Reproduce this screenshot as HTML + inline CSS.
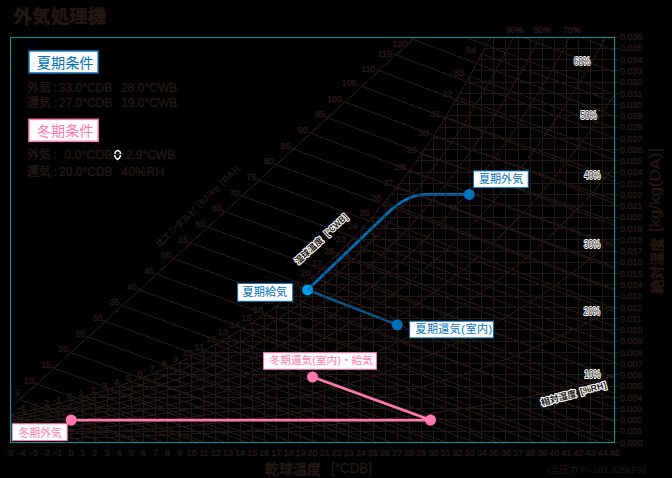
<!DOCTYPE html>
<html><head><meta charset="utf-8"><title>chart</title>
<style>html,body{margin:0;padding:0;background:#000}svg{display:block}text{font-family:"Liberation Sans","Noto Sans CJK JP",sans-serif}</style></head>
<body>
<svg width="672" height="478" viewBox="0 0 672 478">
<rect width="672" height="478" fill="#000"/>
<defs><path id="g" d="M22.56 442.5 L22.56 412.12 M34.65 442.5 L34.65 409.43 M46.73 442.5 L46.73 406.52 M58.82 442.5 L58.82 403.38 M70.9 442.5 L70.9 399.98 M82.99 442.5 L82.99 396.77 M95.07 442.5 L95.07 393.34 M107.16 442.5 L107.16 389.69 M119.24 442.5 L119.24 385.8 M131.33 442.5 L131.33 381.65 M143.41 442.5 L143.41 377.23 M155.5 442.5 L155.5 372.53 M167.58 442.5 L167.58 367.52 M179.67 442.5 L179.67 362.2 M191.75 442.5 L191.75 356.55 M203.84 442.5 L203.84 350.54 M215.92 442.5 L215.92 344.16 M228.01 442.5 L228.01 337.38 M240.09 442.5 L240.09 330.19 M252.18 442.5 L252.18 322.56 M264.26 442.5 L264.26 314.46 M276.35 442.5 L276.35 305.89 M288.43 442.5 L288.43 296.79 M300.51 442.5 L300.51 287.16 M312.6 442.5 L312.6 276.96 M324.69 442.5 L324.69 266.16 M336.77 442.5 L336.77 254.72 M348.86 442.5 L348.86 242.63 M360.94 442.5 L360.94 229.83 M373.02 442.5 L373.02 216.29 M385.11 442.5 L385.11 201.97 M397.2 442.5 L397.2 186.83 M409.28 442.5 L409.28 170.84 M421.37 442.5 L421.37 153.93 M433.45 442.5 L433.45 136.06 M445.54 442.5 L445.54 117.19 M457.62 442.5 L457.62 97.25 M469.71 442.5 L469.71 76.2 M481.79 442.5 L481.79 53.96 M493.88 442.5 L493.88 37 M505.96 442.5 L505.96 37 M518.05 442.5 L518.05 37 M530.13 442.5 L530.13 37 M542.22 442.5 L542.22 37 M554.3 442.5 L554.3 37 M566.38 442.5 L566.38 37 M578.47 442.5 L578.47 37 M590.56 442.5 L590.56 37 M602.64 442.5 L602.64 37 M10.48 431.24 L614.73 431.24 M10.48 419.97 L614.73 419.97 M37.72 408.71 L614.73 408.71 M80.51 397.44 L614.73 397.44 M118.08 386.18 L614.73 386.18 M149.45 374.92 L614.73 374.92 M176.45 363.65 L614.73 363.65 M200.19 352.39 L614.73 352.39 M221.42 341.12 L614.73 341.12 M240.62 329.86 L614.73 329.86 M258.18 318.6 L614.73 318.6 M274.36 307.33 L614.73 307.33 M289.37 296.07 L614.73 296.07 M303.37 284.8 L614.73 284.8 M316.5 273.54 L614.73 273.54 M328.87 262.28 L614.73 262.28 M340.55 251.01 L614.73 251.01 M351.63 239.75 L614.73 239.75 M362.17 228.48 L614.73 228.48 M372.21 217.22 L614.73 217.22 M381.81 205.96 L614.73 205.96 M391 194.69 L614.73 194.69 M399.82 183.43 L614.73 183.43 M408.3 172.16 L614.73 172.16 M416.46 160.9 L614.73 160.9 M424.33 149.64 L614.73 149.64 M431.93 138.37 L614.73 138.37 M439.27 127.11 L614.73 127.11 M446.37 115.84 L614.73 115.84 M453.26 104.58 L614.73 104.58 M459.93 93.32 L614.73 93.32 M466.41 82.05 L614.73 82.05 M472.71 70.79 L614.73 70.79 M478.83 59.52 L614.73 59.52 M484.78 48.26 L614.73 48.26 M10.48 414.61 L13.5 414 L16.52 413.39 L19.54 412.76 L22.56 412.12 L25.58 411.47 L28.6 410.8 L31.62 410.12 L34.65 409.43 L37.67 408.72 L40.69 408 L43.71 407.27 L46.73 406.52 L49.75 405.76 L52.77 404.98 L55.79 404.18 L58.82 403.38 L61.84 402.55 L64.86 401.71 L67.88 400.86 L70.9 399.98 L73.92 399.2 L76.94 398.4 L79.96 397.59 L82.99 396.77 L86.01 395.93 L89.03 395.08 L92.05 394.22 L95.07 393.34 L98.09 392.45 L101.11 391.55 L104.13 390.63 L107.16 389.69 L110.18 388.74 L113.2 387.77 L116.22 386.79 L119.24 385.8 L122.26 384.78 L125.28 383.75 L128.3 382.71 L131.33 381.65 L134.35 380.57 L137.37 379.47 L140.39 378.36 L143.41 377.23 L146.43 376.08 L149.45 374.91 L152.47 373.73 L155.5 372.53 L158.52 371.3 L161.54 370.06 L164.56 368.8 L167.58 367.52 L170.6 366.22 L173.62 364.9 L176.64 363.56 L179.67 362.2 L182.69 360.82 L185.71 359.42 L188.73 357.99 L191.75 356.55 L194.77 355.08 L197.79 353.59 L200.81 352.07 L203.84 350.54 L206.86 348.98 L209.88 347.39 L212.9 345.79 L215.92 344.16 L218.94 342.5 L221.96 340.82 L224.98 339.11 L228.01 337.38 L231.03 335.62 L234.05 333.84 L237.07 332.02 L240.09 330.19 L243.11 328.32 L246.13 326.43 L249.15 324.51 L252.18 322.56 L255.2 320.58 L258.22 318.57 L261.24 316.53 L264.26 314.46 L267.28 312.37 L270.3 310.24 L273.32 308.08 L276.35 305.89 L279.37 303.66 L282.39 301.41 L285.41 299.12 L288.43 296.79 L291.45 294.44 L294.47 292.05 L297.49 289.62 L300.51 287.16 L303.54 284.67 L306.56 282.13 L309.58 279.57 L312.6 276.96 L315.62 274.32 L318.64 271.64 L321.66 268.92 L324.69 266.16 L327.71 263.36 L330.73 260.52 L333.75 257.64 L336.77 254.72 L339.79 251.76 L342.81 248.76 L345.83 245.71 L348.86 242.63 L351.88 239.49 L354.9 236.32 L357.92 233.09 L360.94 229.83 L363.96 226.51 L366.98 223.15 L370 219.74 L373.02 216.29 L376.05 212.78 L379.07 209.23 L382.09 205.62 L385.11 201.97 L388.13 198.26 L391.15 194.51 L394.17 190.7 L397.2 186.83 L400.22 182.92 L403.24 178.95 L406.26 174.92 L409.28 170.84 L412.3 166.7 L415.32 162.5 L418.34 158.24 L421.37 153.93 L424.39 149.55 L427.41 145.12 L430.43 140.62 L433.45 136.06 L436.47 131.44 L439.49 126.76 L442.51 122.01 L445.54 117.19 L448.56 112.31 L451.58 107.36 L454.6 102.34 L457.62 97.25 L460.64 92.1 L463.66 86.87 L466.68 81.57 L469.71 76.2 L472.73 70.75 L475.75 65.23 L478.77 59.63 L481.79 53.96 L484.81 48.21 L487.83 42.38 L490.58 37 M10.48 417.41 L13.5 416.86 L16.52 416.31 L19.54 415.75 L22.56 415.17 L25.58 414.58 L28.6 413.98 L31.62 413.37 L34.65 412.75 L37.67 412.11 L40.69 411.47 L43.71 410.81 L46.73 410.13 L49.75 409.45 L52.77 408.75 L55.79 408.03 L58.82 407.31 L61.84 406.57 L64.86 405.81 L67.88 405.04 L70.9 404.26 L73.92 403.55 L76.94 402.84 L79.96 402.11 L82.99 401.37 L86.01 400.62 L89.03 399.85 L92.05 399.08 L95.07 398.29 L98.09 397.49 L101.11 396.67 L104.13 395.85 L107.16 395.01 L110.18 394.15 L113.2 393.29 L116.22 392.4 L119.24 391.51 L122.26 390.6 L125.28 389.67 L128.3 388.73 L131.33 387.78 L134.35 386.81 L137.37 385.83 L140.39 384.83 L143.41 383.81 L146.43 382.78 L149.45 381.73 L152.47 380.67 L155.5 379.59 L158.52 378.49 L161.54 377.37 L164.56 376.24 L167.58 375.09 L170.6 373.93 L173.62 372.74 L176.64 371.54 L179.67 370.32 L182.69 369.07 L185.71 367.82 L188.73 366.54 L191.75 365.24 L194.77 363.92 L197.79 362.58 L200.81 361.22 L203.84 359.84 L206.86 358.44 L209.88 357.02 L212.9 355.58 L215.92 354.11 L218.94 352.63 L221.96 351.12 L224.98 349.59 L228.01 348.03 L231.03 346.45 L234.05 344.85 L237.07 343.23 L240.09 341.58 L243.11 339.91 L246.13 338.21 L249.15 336.48 L252.18 334.74 L255.2 332.96 L258.22 331.16 L261.24 329.33 L264.26 327.48 L267.28 325.6 L270.3 323.69 L273.32 321.75 L276.35 319.79 L279.37 317.79 L282.39 315.77 L285.41 313.72 L288.43 311.64 L291.45 309.53 L294.47 307.38 L297.49 305.21 L300.51 303.01 L303.54 300.77 L306.56 298.5 L309.58 296.2 L312.6 293.87 L315.62 291.5 L318.64 289.1 L321.66 286.66 L324.69 284.19 L327.71 281.69 L330.73 279.14 L333.75 276.57 L336.77 273.95 L339.79 271.3 L342.81 268.62 L345.83 265.89 L348.86 263.12 L351.88 260.32 L354.9 257.48 L357.92 254.6 L360.94 251.67 L363.96 248.71 L366.98 245.7 L370 242.65 L373.02 239.56 L376.05 236.43 L379.07 233.25 L382.09 230.03 L385.11 226.76 L388.13 223.45 L391.15 220.09 L394.17 216.69 L397.2 213.24 L400.22 209.74 L403.24 206.19 L406.26 202.59 L409.28 198.95 L412.3 195.25 L415.32 191.5 L418.34 187.7 L421.37 183.85 L424.39 179.95 L427.41 175.99 L430.43 171.98 L433.45 167.91 L436.47 163.78 L439.49 159.61 L442.51 155.37 L445.54 151.07 L448.56 146.72 L451.58 142.31 L454.6 137.84 L457.62 133.3 L460.64 128.71 L463.66 124.05 L466.68 119.33 L469.71 114.54 L472.73 109.69 L475.75 104.77 L478.77 99.79 L481.79 94.74 L484.81 89.62 L487.83 84.43 L490.85 79.17 L493.88 73.85 L496.9 68.44 L499.92 62.97 L502.94 57.42 L505.96 51.8 L508.98 46.1 L512 40.32 L513.72 37 M10.48 420.21 L13.5 419.72 L16.52 419.23 L19.54 418.73 L22.56 418.22 L25.58 417.69 L28.6 417.16 L31.62 416.62 L34.65 416.07 L37.67 415.5 L40.69 414.93 L43.71 414.34 L46.73 413.74 L49.75 413.13 L52.77 412.51 L55.79 411.88 L58.82 411.24 L61.84 410.58 L64.86 409.91 L67.88 409.23 L70.9 408.53 L73.92 407.9 L76.94 407.27 L79.96 406.62 L82.99 405.96 L86.01 405.3 L89.03 404.62 L92.05 403.93 L95.07 403.23 L98.09 402.52 L101.11 401.8 L104.13 401.06 L107.16 400.32 L110.18 399.56 L113.2 398.79 L116.22 398.01 L119.24 397.21 L122.26 396.4 L125.28 395.58 L128.3 394.75 L131.33 393.9 L134.35 393.04 L137.37 392.17 L140.39 391.28 L143.41 390.38 L146.43 389.47 L149.45 388.54 L152.47 387.59 L155.5 386.63 L158.52 385.66 L161.54 384.67 L164.56 383.67 L167.58 382.65 L170.6 381.61 L173.62 380.56 L176.64 379.49 L179.67 378.41 L182.69 377.31 L185.71 376.19 L188.73 375.06 L191.75 373.91 L194.77 372.74 L197.79 371.55 L200.81 370.35 L203.84 369.12 L206.86 367.88 L209.88 366.62 L212.9 365.34 L215.92 364.04 L218.94 362.73 L221.96 361.39 L224.98 360.03 L228.01 358.65 L231.03 357.26 L234.05 355.84 L237.07 354.4 L240.09 352.94 L243.11 351.45 L246.13 349.95 L249.15 348.42 L252.18 346.87 L255.2 345.3 L258.22 343.71 L261.24 342.09 L264.26 340.44 L267.28 338.78 L270.3 337.09 L273.32 335.37 L276.35 333.63 L279.37 331.87 L282.39 330.08 L285.41 328.26 L288.43 326.42 L291.45 324.55 L294.47 322.65 L297.49 320.73 L300.51 318.78 L303.54 316.8 L306.56 314.79 L309.58 312.76 L312.6 310.69 L315.62 308.6 L318.64 306.47 L321.66 304.32 L324.69 302.13 L327.71 299.92 L330.73 297.67 L333.75 295.39 L336.77 293.08 L339.79 290.74 L342.81 288.36 L345.83 285.95 L348.86 283.51 L351.88 281.03 L354.9 278.52 L357.92 275.97 L360.94 273.39 L363.96 270.77 L366.98 268.11 L370 265.42 L373.02 262.69 L376.05 259.92 L379.07 257.12 L382.09 254.27 L385.11 251.39 L388.13 248.46 L391.15 245.5 L394.17 242.5 L397.2 239.45 L400.22 236.36 L403.24 233.23 L406.26 230.06 L409.28 226.84 L412.3 223.58 L415.32 220.27 L418.34 216.92 L421.37 213.53 L424.39 210.09 L427.41 206.6 L430.43 203.06 L433.45 199.48 L436.47 195.84 L439.49 192.16 L442.51 188.43 L445.54 184.65 L448.56 180.81 L451.58 176.93 L454.6 172.99 L457.62 169 L460.64 164.95 L463.66 160.85 L466.68 156.7 L469.71 152.49 L472.73 148.22 L475.75 143.9 L478.77 139.52 L481.79 135.08 L484.81 130.58 L487.83 126.02 L490.85 121.39 L493.88 116.71 L496.9 111.97 L499.92 107.16 L502.94 102.28 L505.96 97.35 L508.98 92.34 L512 87.27 L515.02 82.13 L518.05 76.93 L521.07 71.65 L524.09 66.31 L527.11 60.89 L530.13 55.4 L533.15 49.84 L536.17 44.2 L539.19 38.49 L539.98 37 M10.48 423 L13.5 422.58 L16.52 422.15 L19.54 421.71 L22.56 421.26 L25.58 420.8 L28.6 420.34 L31.62 419.87 L34.65 419.38 L37.67 418.89 L40.69 418.39 L43.71 417.87 L46.73 417.35 L49.75 416.82 L52.77 416.28 L55.79 415.72 L58.82 415.16 L61.84 414.58 L64.86 414 L67.88 413.4 L70.9 412.79 L73.92 412.24 L76.94 411.69 L79.96 411.12 L82.99 410.55 L86.01 409.97 L89.03 409.38 L92.05 408.77 L95.07 408.16 L98.09 407.54 L101.11 406.91 L104.13 406.27 L107.16 405.62 L110.18 404.95 L113.2 404.28 L116.22 403.6 L119.24 402.9 L122.26 402.2 L125.28 401.48 L128.3 400.75 L131.33 400.01 L134.35 399.26 L137.37 398.5 L140.39 397.72 L143.41 396.94 L146.43 396.14 L149.45 395.33 L152.47 394.5 L155.5 393.66 L158.52 392.81 L161.54 391.95 L164.56 391.07 L167.58 390.18 L170.6 389.28 L173.62 388.36 L176.64 387.43 L179.67 386.48 L182.69 385.52 L185.71 384.55 L188.73 383.56 L191.75 382.55 L194.77 381.53 L197.79 380.5 L200.81 379.45 L203.84 378.38 L206.86 377.3 L209.88 376.2 L212.9 375.08 L215.92 373.95 L218.94 372.8 L221.96 371.63 L224.98 370.45 L228.01 369.24 L231.03 368.03 L234.05 366.79 L237.07 365.53 L240.09 364.26 L243.11 362.96 L246.13 361.65 L249.15 360.32 L252.18 358.97 L255.2 357.6 L258.22 356.21 L261.24 354.8 L264.26 353.36 L267.28 351.91 L270.3 350.44 L273.32 348.94 L276.35 347.43 L279.37 345.89 L282.39 344.33 L285.41 342.74 L288.43 341.14 L291.45 339.51 L294.47 337.86 L297.49 336.18 L300.51 334.48 L303.54 332.76 L306.56 331.01 L309.58 329.24 L312.6 327.44 L315.62 325.61 L318.64 323.76 L321.66 321.89 L324.69 319.99 L327.71 318.06 L330.73 316.1 L333.75 314.12 L336.77 312.11 L339.79 310.07 L342.81 308 L345.83 305.9 L348.86 303.78 L351.88 301.62 L354.9 299.43 L357.92 297.22 L360.94 294.97 L363.96 292.69 L366.98 290.38 L370 288.04 L373.02 285.67 L376.05 283.26 L379.07 280.82 L382.09 278.35 L385.11 275.85 L388.13 273.3 L391.15 270.73 L394.17 268.12 L397.2 265.47 L400.22 262.79 L403.24 260.07 L406.26 257.31 L409.28 254.52 L412.3 251.69 L415.32 248.82 L418.34 245.91 L421.37 242.97 L424.39 239.98 L427.41 236.95 L430.43 233.88 L433.45 230.77 L436.47 227.62 L439.49 224.43 L442.51 221.19 L445.54 217.91 L448.56 214.59 L451.58 211.22 L454.6 207.81 L457.62 204.35 L460.64 200.84 L463.66 197.29 L466.68 193.69 L469.71 190.05 L472.73 186.35 L475.75 182.61 L478.77 178.82 L481.79 174.97 L484.81 171.08 L487.83 167.13 L490.85 163.13 L493.88 159.08 L496.9 154.98 L499.92 150.82 L502.94 146.61 L505.96 142.34 L508.98 138.01 L512 133.63 L515.02 129.19 L518.05 124.7 L521.07 120.14 L524.09 115.53 L527.11 110.85 L530.13 106.11 L533.15 101.31 L536.17 96.45 L539.19 91.52 L542.22 86.53 L545.24 81.48 L548.26 76.36 L551.28 71.17 L554.3 65.92 L557.32 60.59 L560.34 55.2 L563.36 49.74 L566.38 44.2 L569.41 38.6 L570.26 37 M10.48 425.79 L13.5 425.43 L16.52 425.06 L19.54 424.69 L22.56 424.3 L25.58 423.91 L28.6 423.51 L31.62 423.11 L34.65 422.69 L37.67 422.27 L40.69 421.84 L43.71 421.4 L46.73 420.96 L49.75 420.5 L52.77 420.03 L55.79 419.56 L58.82 419.08 L61.84 418.59 L64.86 418.08 L67.88 417.57 L70.9 417.05 L73.92 416.58 L76.94 416.11 L79.96 415.62 L82.99 415.13 L86.01 414.63 L89.03 414.13 L92.05 413.61 L95.07 413.09 L98.09 412.56 L101.11 412.02 L104.13 411.47 L107.16 410.91 L110.18 410.34 L113.2 409.77 L116.22 409.18 L119.24 408.59 L122.26 407.98 L125.28 407.37 L128.3 406.75 L131.33 406.11 L134.35 405.47 L137.37 404.82 L140.39 404.16 L143.41 403.48 L146.43 402.8 L149.45 402.1 L152.47 401.4 L155.5 400.68 L158.52 399.96 L161.54 399.22 L164.56 398.47 L167.58 397.71 L170.6 396.93 L173.62 396.15 L176.64 395.35 L179.67 394.54 L182.69 393.72 L185.71 392.89 L188.73 392.04 L191.75 391.18 L194.77 390.31 L197.79 389.42 L200.81 388.52 L203.84 387.61 L206.86 386.68 L209.88 385.74 L212.9 384.79 L215.92 383.82 L218.94 382.84 L221.96 381.84 L224.98 380.83 L228.01 379.8 L231.03 378.76 L234.05 377.7 L237.07 376.63 L240.09 375.54 L243.11 374.44 L246.13 373.32 L249.15 372.18 L252.18 371.02 L255.2 369.85 L258.22 368.66 L261.24 367.46 L264.26 366.24 L267.28 365 L270.3 363.74 L273.32 362.46 L276.35 361.17 L279.37 359.85 L282.39 358.52 L285.41 357.17 L288.43 355.8 L291.45 354.41 L294.47 353 L297.49 351.57 L300.51 350.12 L303.54 348.65 L306.56 347.15 L309.58 345.64 L312.6 344.11 L315.62 342.55 L318.64 340.97 L321.66 339.37 L324.69 337.75 L327.71 336.1 L330.73 334.44 L333.75 332.74 L336.77 331.03 L339.79 329.29 L342.81 327.53 L345.83 325.74 L348.86 323.93 L351.88 322.09 L354.9 320.23 L357.92 318.34 L360.94 316.43 L363.96 314.49 L366.98 312.52 L370 310.52 L373.02 308.5 L376.05 306.45 L379.07 304.38 L382.09 302.27 L385.11 300.14 L388.13 297.97 L391.15 295.78 L394.17 293.56 L397.2 291.31 L400.22 289.02 L403.24 286.71 L406.26 284.37 L409.28 281.99 L412.3 279.58 L415.32 277.14 L418.34 274.67 L421.37 272.16 L424.39 269.62 L427.41 267.05 L430.43 264.44 L433.45 261.8 L436.47 259.12 L439.49 256.41 L442.51 253.66 L445.54 250.87 L448.56 248.05 L451.58 245.19 L454.6 242.29 L457.62 239.36 L460.64 236.38 L463.66 233.37 L466.68 230.31 L469.71 227.22 L472.73 224.09 L475.75 220.91 L478.77 217.69 L481.79 214.43 L484.81 211.13 L487.83 207.79 L490.85 204.4 L493.88 200.97 L496.9 197.49 L499.92 193.97 L502.94 190.4 L505.96 186.78 L508.98 183.12 L512 179.41 L515.02 175.66 L518.05 171.85 L521.07 168 L524.09 164.09 L527.11 160.14 L530.13 156.13 L533.15 152.07 L536.17 147.96 L539.19 143.8 L542.22 139.59 L545.24 135.32 L548.26 130.99 L551.28 126.61 L554.3 122.17 L557.32 117.68 L560.34 113.13 L563.36 108.52 L566.38 103.85 L569.41 99.12 L572.43 94.34 L575.45 89.49 L578.47 84.58 L581.49 79.6 L584.51 74.56 L587.53 69.46 L590.56 64.3 L593.58 59.06 L596.6 53.77 L599.62 48.4 L602.64 42.97 L605.66 37.46 L605.92 37 M10.48 428.58 L13.5 428.28 L16.52 427.97 L19.54 427.66 L22.56 427.34 L25.58 427.02 L28.6 426.69 L31.62 426.35 L34.65 426 L37.67 425.65 L40.69 425.29 L43.71 424.93 L46.73 424.56 L49.75 424.18 L52.77 423.79 L55.79 423.39 L58.82 422.99 L61.84 422.58 L64.86 422.17 L67.88 421.74 L70.9 421.3 L73.92 420.92 L76.94 420.52 L79.96 420.12 L82.99 419.71 L86.01 419.29 L89.03 418.87 L92.05 418.44 L95.07 418.01 L98.09 417.57 L101.11 417.12 L104.13 416.66 L107.16 416.19 L110.18 415.72 L113.2 415.24 L116.22 414.76 L119.24 414.26 L122.26 413.76 L125.28 413.25 L128.3 412.73 L131.33 412.21 L134.35 411.67 L137.37 411.13 L140.39 410.58 L143.41 410.02 L146.43 409.45 L149.45 408.87 L152.47 408.28 L155.5 407.69 L158.52 407.08 L161.54 406.47 L164.56 405.84 L167.58 405.21 L170.6 404.57 L173.62 403.92 L176.64 403.25 L179.67 402.58 L182.69 401.9 L185.71 401.2 L188.73 400.5 L191.75 399.79 L194.77 399.06 L197.79 398.32 L200.81 397.58 L203.84 396.82 L206.86 396.05 L209.88 395.27 L212.9 394.47 L215.92 393.67 L218.94 392.85 L221.96 392.03 L224.98 391.18 L228.01 390.33 L231.03 389.46 L234.05 388.59 L237.07 387.69 L240.09 386.79 L243.11 385.87 L246.13 384.94 L249.15 384 L252.18 383.04 L255.2 382.06 L258.22 381.08 L261.24 380.08 L264.26 379.06 L267.28 378.03 L270.3 376.99 L273.32 375.93 L276.35 374.85 L279.37 373.76 L282.39 372.66 L285.41 371.53 L288.43 370.4 L291.45 369.24 L294.47 368.07 L297.49 366.89 L300.51 365.68 L303.54 364.46 L306.56 363.22 L309.58 361.97 L312.6 360.7 L315.62 359.41 L318.64 358.1 L321.66 356.77 L324.69 355.43 L327.71 354.06 L330.73 352.68 L333.75 351.28 L336.77 349.85 L339.79 348.41 L342.81 346.95 L345.83 345.47 L348.86 343.97 L351.88 342.45 L354.9 340.9 L357.92 339.34 L360.94 337.75 L363.96 336.14 L366.98 334.52 L370 332.86 L373.02 331.19 L376.05 329.49 L379.07 327.77 L382.09 326.03 L385.11 324.26 L388.13 322.47 L391.15 320.66 L394.17 318.82 L397.2 316.96 L400.22 315.07 L403.24 313.16 L406.26 311.22 L409.28 309.25 L412.3 307.26 L415.32 305.24 L418.34 303.2 L421.37 301.13 L424.39 299.03 L427.41 296.9 L430.43 294.74 L433.45 292.56 L436.47 290.35 L439.49 288.11 L442.51 285.84 L445.54 283.54 L448.56 281.2 L451.58 278.84 L454.6 276.45 L457.62 274.03 L460.64 271.57 L463.66 269.09 L466.68 266.57 L469.71 264.01 L472.73 261.43 L475.75 258.81 L478.77 256.16 L481.79 253.47 L484.81 250.75 L487.83 247.99 L490.85 245.2 L493.88 242.37 L496.9 239.51 L499.92 236.61 L502.94 233.67 L505.96 230.69 L508.98 227.68 L512 224.62 L515.02 221.53 L518.05 218.4 L521.07 215.23 L524.09 212.02 L527.11 208.77 L530.13 205.47 L533.15 202.14 L536.17 198.76 L539.19 195.34 L542.22 191.88 L545.24 188.37 L548.26 184.82 L551.28 181.22 L554.3 177.58 L557.32 173.89 L560.34 170.16 L563.36 166.38 L566.38 162.55 L569.41 158.67 L572.43 154.75 L575.45 150.77 L578.47 146.75 L581.49 142.67 L584.51 138.55 L587.53 134.37 L590.56 130.14 L593.58 125.86 L596.6 121.52 L599.62 117.13 L602.64 112.69 L605.66 108.19 L608.68 103.63 L611.7 99.02 L614.73 94.35 M10.48 431.37 L13.5 431.13 L16.52 430.88 L19.54 430.63 L22.56 430.38 L25.58 430.12 L28.6 429.85 L31.62 429.58 L34.65 429.31 L37.67 429.03 L40.69 428.74 L43.71 428.45 L46.73 428.15 L49.75 427.85 L52.77 427.54 L55.79 427.22 L58.82 426.9 L61.84 426.58 L64.86 426.24 L67.88 425.9 L70.9 425.55 L73.92 425.24 L76.94 424.93 L79.96 424.61 L82.99 424.28 L86.01 423.95 L89.03 423.61 L92.05 423.27 L95.07 422.92 L98.09 422.57 L101.11 422.21 L104.13 421.84 L107.16 421.47 L110.18 421.09 L113.2 420.71 L116.22 420.32 L119.24 419.93 L122.26 419.53 L125.28 419.12 L128.3 418.71 L131.33 418.29 L134.35 417.86 L137.37 417.42 L140.39 416.98 L143.41 416.54 L146.43 416.08 L149.45 415.62 L152.47 415.15 L155.5 414.68 L158.52 414.19 L161.54 413.7 L164.56 413.21 L167.58 412.7 L170.6 412.19 L173.62 411.67 L176.64 411.14 L179.67 410.6 L182.69 410.06 L185.71 409.5 L188.73 408.94 L191.75 408.37 L194.77 407.79 L197.79 407.2 L200.81 406.61 L203.84 406 L206.86 405.39 L209.88 404.77 L212.9 404.13 L215.92 403.49 L218.94 402.84 L221.96 402.18 L224.98 401.51 L228.01 400.83 L231.03 400.14 L234.05 399.44 L237.07 398.72 L240.09 398 L243.11 397.27 L246.13 396.53 L249.15 395.77 L252.18 395.01 L255.2 394.24 L258.22 393.45 L261.24 392.65 L264.26 391.84 L267.28 391.02 L270.3 390.19 L273.32 389.34 L276.35 388.49 L279.37 387.62 L282.39 386.74 L285.41 385.84 L288.43 384.94 L291.45 384.02 L294.47 383.08 L297.49 382.14 L300.51 381.18 L303.54 380.21 L306.56 379.22 L309.58 378.22 L312.6 377.21 L315.62 376.18 L318.64 375.14 L321.66 374.08 L324.69 373.01 L327.71 371.93 L330.73 370.83 L333.75 369.71 L336.77 368.58 L339.79 367.43 L342.81 366.27 L345.83 365.09 L348.86 363.9 L351.88 362.68 L354.9 361.46 L357.92 360.21 L360.94 358.95 L363.96 357.67 L366.98 356.38 L370 355.06 L373.02 353.73 L376.05 352.39 L379.07 351.02 L382.09 349.63 L385.11 348.23 L388.13 346.81 L391.15 345.37 L394.17 343.9 L397.2 342.42 L400.22 340.92 L403.24 339.41 L406.26 337.87 L409.28 336.3 L412.3 334.72 L415.32 333.12 L418.34 331.5 L421.37 329.85 L424.39 328.19 L427.41 326.5 L430.43 324.79 L433.45 323.06 L436.47 321.31 L439.49 319.53 L442.51 317.73 L445.54 315.9 L448.56 314.05 L451.58 312.18 L454.6 310.29 L457.62 308.37 L460.64 306.42 L463.66 304.45 L466.68 302.46 L469.71 300.43 L472.73 298.39 L475.75 296.31 L478.77 294.21 L481.79 292.09 L484.81 289.93 L487.83 287.75 L490.85 285.54 L493.88 283.31 L496.9 281.04 L499.92 278.75 L502.94 276.42 L505.96 274.07 L508.98 271.69 L512 269.28 L515.02 266.83 L518.05 264.36 L521.07 261.86 L524.09 259.32 L527.11 256.75 L530.13 254.15 L533.15 251.52 L536.17 248.86 L539.19 246.16 L542.22 243.43 L545.24 240.66 L548.26 237.86 L551.28 235.02 L554.3 232.15 L557.32 229.25 L560.34 226.31 L563.36 223.33 L566.38 220.31 L569.41 217.26 L572.43 214.17 L575.45 211.04 L578.47 207.88 L581.49 204.67 L584.51 201.43 L587.53 198.15 L590.56 194.82 L593.58 191.46 L596.6 188.05 L599.62 184.6 L602.64 181.11 L605.66 177.58 L608.68 174 L611.7 170.39 L614.73 166.72 M10.48 434.16 L13.5 433.98 L16.52 433.79 L19.54 433.6 L22.56 433.41 L25.58 433.22 L28.6 433.02 L31.62 432.82 L34.65 432.61 L37.67 432.4 L40.69 432.19 L43.71 431.97 L46.73 431.74 L49.75 431.52 L52.77 431.29 L55.79 431.05 L58.82 430.81 L61.84 430.56 L64.86 430.31 L67.88 430.06 L70.9 429.8 L73.92 429.57 L76.94 429.33 L79.96 429.09 L82.99 428.84 L86.01 428.59 L89.03 428.34 L92.05 428.09 L95.07 427.83 L98.09 427.56 L101.11 427.29 L104.13 427.02 L107.16 426.74 L110.18 426.46 L113.2 426.17 L116.22 425.88 L119.24 425.58 L122.26 425.28 L125.28 424.98 L128.3 424.67 L131.33 424.35 L134.35 424.03 L137.37 423.71 L140.39 423.38 L143.41 423.05 L146.43 422.71 L149.45 422.36 L152.47 422.01 L155.5 421.65 L158.52 421.29 L161.54 420.93 L164.56 420.55 L167.58 420.17 L170.6 419.79 L173.62 419.4 L176.64 419 L179.67 418.6 L182.69 418.19 L185.71 417.78 L188.73 417.36 L191.75 416.93 L194.77 416.5 L197.79 416.06 L200.81 415.62 L203.84 415.16 L206.86 414.7 L209.88 414.24 L212.9 413.76 L215.92 413.28 L218.94 412.8 L221.96 412.3 L224.98 411.8 L228.01 411.29 L231.03 410.77 L234.05 410.25 L237.07 409.72 L240.09 409.18 L243.11 408.63 L246.13 408.08 L249.15 407.51 L252.18 406.94 L255.2 406.36 L258.22 405.78 L261.24 405.18 L264.26 404.57 L267.28 403.96 L270.3 403.34 L273.32 402.71 L276.35 402.07 L279.37 401.42 L282.39 400.76 L285.41 400.09 L288.43 399.42 L291.45 398.73 L294.47 398.03 L297.49 397.33 L300.51 396.61 L303.54 395.88 L306.56 395.15 L309.58 394.4 L312.6 393.65 L315.62 392.88 L318.64 392.1 L321.66 391.31 L324.69 390.51 L327.71 389.7 L330.73 388.88 L333.75 388.05 L336.77 387.2 L339.79 386.35 L342.81 385.48 L345.83 384.6 L348.86 383.71 L351.88 382.81 L354.9 381.89 L357.92 380.97 L360.94 380.03 L363.96 379.07 L366.98 378.11 L370 377.13 L373.02 376.14 L376.05 375.13 L379.07 374.11 L382.09 373.08 L385.11 372.03 L388.13 370.97 L391.15 369.9 L394.17 368.81 L397.2 367.71 L400.22 366.59 L403.24 365.46 L406.26 364.32 L409.28 363.15 L412.3 361.98 L415.32 360.79 L418.34 359.58 L421.37 358.35 L424.39 357.12 L427.41 355.86 L430.43 354.59 L433.45 353.3 L436.47 352 L439.49 350.67 L442.51 349.33 L445.54 347.98 L448.56 346.61 L451.58 345.21 L454.6 343.81 L457.62 342.38 L460.64 340.93 L463.66 339.47 L466.68 337.99 L469.71 336.49 L472.73 334.97 L475.75 333.43 L478.77 331.87 L481.79 330.29 L484.81 328.7 L487.83 327.08 L490.85 325.44 L493.88 323.78 L496.9 322.1 L499.92 320.4 L502.94 318.68 L505.96 316.93 L508.98 315.17 L512 313.38 L515.02 311.57 L518.05 309.74 L521.07 307.89 L524.09 306.01 L527.11 304.11 L530.13 302.18 L533.15 300.24 L536.17 298.26 L539.19 296.27 L542.22 294.25 L545.24 292.2 L548.26 290.13 L551.28 288.04 L554.3 285.92 L557.32 283.77 L560.34 281.6 L563.36 279.4 L566.38 277.17 L569.41 274.92 L572.43 272.64 L575.45 270.33 L578.47 268 L581.49 265.63 L584.51 263.24 L587.53 260.82 L590.56 258.37 L593.58 255.89 L596.6 253.38 L599.62 250.84 L602.64 248.27 L605.66 245.67 L608.68 243.04 L611.7 240.38 L614.73 237.68 M10.48 436.94 L13.5 436.82 L16.52 436.7 L19.54 436.57 L22.56 436.44 L25.58 436.32 L28.6 436.18 L31.62 436.05 L34.65 435.91 L37.67 435.77 L40.69 435.63 L43.71 435.48 L46.73 435.33 L49.75 435.18 L52.77 435.03 L55.79 434.87 L58.82 434.71 L61.84 434.55 L64.86 434.38 L67.88 434.21 L70.9 434.04 L73.92 433.88 L76.94 433.72 L79.96 433.56 L82.99 433.4 L86.01 433.24 L89.03 433.07 L92.05 432.9 L95.07 432.72 L98.09 432.55 L101.11 432.37 L104.13 432.19 L107.16 432 L110.18 431.81 L113.2 431.62 L116.22 431.43 L119.24 431.23 L122.26 431.03 L125.28 430.83 L128.3 430.62 L131.33 430.41 L134.35 430.2 L137.37 429.98 L140.39 429.77 L143.41 429.54 L146.43 429.32 L149.45 429.09 L152.47 428.85 L155.5 428.62 L158.52 428.38 L161.54 428.13 L164.56 427.88 L167.58 427.63 L170.6 427.38 L173.62 427.12 L176.64 426.85 L179.67 426.59 L182.69 426.32 L185.71 426.04 L188.73 425.76 L191.75 425.48 L194.77 425.19 L197.79 424.9 L200.81 424.6 L203.84 424.3 L206.86 423.99 L209.88 423.68 L212.9 423.37 L215.92 423.05 L218.94 422.73 L221.96 422.4 L224.98 422.06 L228.01 421.73 L231.03 421.38 L234.05 421.03 L237.07 420.68 L240.09 420.32 L243.11 419.96 L246.13 419.59 L249.15 419.21 L252.18 418.84 L255.2 418.45 L258.22 418.06 L261.24 417.66 L264.26 417.26 L267.28 416.85 L270.3 416.44 L273.32 416.02 L276.35 415.6 L279.37 415.17 L282.39 414.73 L285.41 414.29 L288.43 413.84 L291.45 413.38 L294.47 412.92 L297.49 412.45 L300.51 411.97 L303.54 411.49 L306.56 411 L309.58 410.51 L312.6 410.01 L315.62 409.5 L318.64 408.98 L321.66 408.46 L324.69 407.93 L327.71 407.39 L330.73 406.85 L333.75 406.29 L336.77 405.73 L339.79 405.17 L342.81 404.59 L345.83 404.01 L348.86 403.42 L351.88 402.82 L354.9 402.21 L357.92 401.6 L360.94 400.97 L363.96 400.34 L366.98 399.7 L370 399.05 L373.02 398.4 L376.05 397.73 L379.07 397.06 L382.09 396.37 L385.11 395.68 L388.13 394.98 L391.15 394.27 L394.17 393.55 L397.2 392.82 L400.22 392.08 L403.24 391.33 L406.26 390.57 L409.28 389.8 L412.3 389.02 L415.32 388.23 L418.34 387.44 L421.37 386.63 L424.39 385.81 L427.41 384.98 L430.43 384.14 L433.45 383.28 L436.47 382.42 L439.49 381.55 L442.51 380.66 L445.54 379.77 L448.56 378.86 L451.58 377.94 L454.6 377.01 L457.62 376.07 L460.64 375.12 L463.66 374.15 L466.68 373.17 L469.71 372.18 L472.73 371.18 L475.75 370.16 L478.77 369.13 L481.79 368.09 L484.81 367.04 L487.83 365.97 L490.85 364.89 L493.88 363.8 L496.9 362.69 L499.92 361.57 L502.94 360.43 L505.96 359.29 L508.98 358.12 L512 356.95 L515.02 355.75 L518.05 354.55 L521.07 353.33 L524.09 352.09 L527.11 350.84 L530.13 349.58 L533.15 348.29 L536.17 347 L539.19 345.69 L542.22 344.36 L545.24 343.01 L548.26 341.65 L551.28 340.28 L554.3 338.88 L557.32 337.47 L560.34 336.05 L563.36 334.6 L566.38 333.14 L569.41 331.66 L572.43 330.17 L575.45 328.65 L578.47 327.12 L581.49 325.57 L584.51 324 L587.53 322.42 L590.56 320.81 L593.58 319.19 L596.6 317.54 L599.62 315.88 L602.64 314.2 L605.66 312.5 L608.68 310.78 L611.7 309.03 L614.73 307.27 M10.48 439.72 L13.5 439.66 L16.52 439.6 L19.54 439.54 L22.56 439.47 L25.58 439.41 L28.6 439.34 L31.62 439.28 L34.65 439.21 L37.67 439.14 L40.69 439.07 L43.71 438.99 L46.73 438.92 L49.75 438.84 L52.77 438.77 L55.79 438.69 L58.82 438.61 L61.84 438.53 L64.86 438.44 L67.88 438.36 L70.9 438.27 L73.92 438.19 L76.94 438.11 L79.96 438.03 L82.99 437.95 L86.01 437.87 L89.03 437.79 L92.05 437.7 L95.07 437.62 L98.09 437.53 L101.11 437.44 L104.13 437.35 L107.16 437.25 L110.18 437.16 L113.2 437.07 L116.22 436.97 L119.24 436.87 L122.26 436.77 L125.28 436.67 L128.3 436.57 L131.33 436.46 L134.35 436.36 L137.37 436.25 L140.39 436.14 L143.41 436.03 L146.43 435.91 L149.45 435.8 L152.47 435.68 L155.5 435.57 L158.52 435.44 L161.54 435.32 L164.56 435.2 L167.58 435.07 L170.6 434.95 L173.62 434.82 L176.64 434.69 L179.67 434.55 L182.69 434.42 L185.71 434.28 L188.73 434.14 L191.75 434 L194.77 433.85 L197.79 433.71 L200.81 433.56 L203.84 433.41 L206.86 433.26 L209.88 433.1 L212.9 432.95 L215.92 432.79 L218.94 432.63 L221.96 432.46 L224.98 432.3 L228.01 432.13 L231.03 431.96 L234.05 431.78 L237.07 431.61 L240.09 431.43 L243.11 431.25 L246.13 431.06 L249.15 430.88 L252.18 430.69 L255.2 430.5 L258.22 430.3 L261.24 430.1 L264.26 429.9 L267.28 429.7 L270.3 429.49 L273.32 429.29 L276.35 429.07 L279.37 428.86 L282.39 428.64 L285.41 428.42 L288.43 428.2 L291.45 427.97 L294.47 427.74 L297.49 427.51 L300.51 427.27 L303.54 427.03 L306.56 426.79 L309.58 426.54 L312.6 426.29 L315.62 426.04 L318.64 425.78 L321.66 425.52 L324.69 425.26 L327.71 424.99 L330.73 424.72 L333.75 424.44 L336.77 424.16 L339.79 423.88 L342.81 423.6 L345.83 423.31 L348.86 423.01 L351.88 422.72 L354.9 422.41 L357.92 422.11 L360.94 421.8 L363.96 421.48 L366.98 421.17 L370 420.84 L373.02 420.52 L376.05 420.19 L379.07 419.85 L382.09 419.51 L385.11 419.17 L388.13 418.82 L391.15 418.47 L394.17 418.11 L397.2 417.75 L400.22 417.38 L403.24 417.01 L406.26 416.63 L409.28 416.25 L412.3 415.86 L415.32 415.47 L418.34 415.08 L421.37 414.67 L424.39 414.27 L427.41 413.86 L430.43 413.44 L433.45 413.02 L436.47 412.59 L439.49 412.16 L442.51 411.72 L445.54 411.27 L448.56 410.82 L451.58 410.37 L454.6 409.91 L457.62 409.44 L460.64 408.97 L463.66 408.49 L466.68 408.01 L469.71 407.52 L472.73 407.02 L475.75 406.52 L478.77 406.01 L481.79 405.49 L484.81 404.97 L487.83 404.44 L490.85 403.91 L493.88 403.37 L496.9 402.82 L499.92 402.27 L502.94 401.71 L505.96 401.14 L508.98 400.56 L512 399.98 L515.02 399.39 L518.05 398.8 L521.07 398.2 L524.09 397.59 L527.11 396.97 L530.13 396.34 L533.15 395.71 L536.17 395.07 L539.19 394.42 L542.22 393.77 L545.24 393.11 L548.26 392.44 L551.28 391.76 L554.3 391.07 L557.32 390.38 L560.34 389.67 L563.36 388.96 L566.38 388.24 L569.41 387.52 L572.43 386.78 L575.45 386.04 L578.47 385.28 L581.49 384.52 L584.51 383.75 L587.53 382.97 L590.56 382.18 L593.58 381.38 L596.6 380.57 L599.62 379.76 L602.64 378.93 L605.66 378.1 L608.68 377.25 L611.7 376.4 L614.73 375.53 M10.48 414.61 L55.79 431.55 L85.22 442.5 M22.56 412.12 L67.27 428.86 L103.9 442.5 M34.65 409.43 L100.81 434.2 L123.11 442.5 M46.73 406.52 L111.99 430.99 L142.89 442.5 M58.82 403.38 L123.17 427.54 L163.27 442.5 M70.9 399.98 L134.35 423.84 L184.32 442.5 M82.99 396.77 L145.52 420.32 L204.85 442.5 M95.07 393.34 L177.25 424.3 L225.95 442.5 M107.16 389.69 L188.12 420.24 L247.62 442.5 M119.24 385.8 L199 415.94 L269.93 442.5 M131.33 381.65 L229.52 418.78 L292.89 442.5 M143.41 377.23 L240.09 413.85 L316.54 442.5 M155.5 372.53 L250.66 408.64 L340.92 442.5 M167.58 367.52 L279.97 410.2 L366.08 442.5 M179.67 362.2 L290.24 404.27 L392.05 442.5 M191.75 356.55 L318.64 404.86 L418.88 442.5 M203.84 350.54 L328.61 398.15 L446.62 442.5 M215.92 344.16 L356.11 397.7 L475.31 442.5 M228.01 337.38 L383 396.64 L505.01 442.5 M240.09 330.19 L392.36 388.54 L535.77 442.5 M252.18 322.56 L418.34 386.32 L567.64 442.5 M264.26 314.46 L443.72 383.43 L600.69 442.5 M276.35 305.89 L452.48 373.74 L614.73 434.95 M288.43 296.79 L461.25 363.54 L614.73 421.63 M300.51 287.16 L470.01 352.8 L614.73 407.76 M312.6 276.96 L478.77 341.49 L614.73 393.31 M324.69 266.16 L472.73 323.87 L614.73 378.23 M336.77 254.72 L481.79 311.42 L614.73 362.51 M348.86 242.63 L490.85 297.67 L614.73 344.88 M360.94 229.83 L499.92 283.24 L614.73 326.65 M373.02 216.29 L495.39 263.21 L614.73 308.26 M385.11 201.97 L504.75 247.71 L614.73 289.13 M397.2 186.83 L514.12 230.05 L614.73 266.7 M409.28 170.84 L523.48 212.18 L614.73 244.74 M421.37 153.93 L520.46 188.75 L614.73 221.42 M433.45 136.06 L530.13 170.35 L614.73 199.96 M445.54 117.19 L539.8 150.77 L614.73 177.14 M457.62 97.25 L537.99 126.04 L614.73 153.23 M469.71 76.2 L547.96 104.37 L614.73 128.16 M481.79 53.96 L557.93 81.51 L614.73 101.87 M16.99 398.52 L138.21 442.5 M34.1 382.86 L198.29 442.5 M51.21 367.19 L258.27 442.5 M68.32 351.53 L318.13 442.5 M85.43 335.87 L377.88 442.5 M102.54 320.21 L437.49 442.5 M119.65 304.55 L496.96 442.5 M136.76 288.89 L556.27 442.5 M153.87 273.23 L614.73 442.24 M170.98 257.57 L614.73 420.57 M188.09 241.9 L614.73 398.9 M205.21 226.24 L614.73 377.22 M222.32 210.58 L614.73 355.53 M239.43 194.92 L614.72 333.84 M256.54 179.26 L614.73 312.13 M273.65 163.59 L614.73 290.42 M290.76 147.93 L614.73 268.69 M307.87 132.27 L614.73 246.96 M324.98 116.61 L614.73 225.21 M342.09 100.94 L614.73 203.44 M359.2 85.28 L614.73 181.66 M376.31 69.62 L614.73 159.86 M393.43 53.95 L614.73 138.04 M410.54 38.29 L614.73 116.2 M465.14 37 L614.73 94.33 M522.73 37 L614.73 72.43 M579.87 37 L614.73 50.49 M11.9 406.78 L415.92 37"/></defs>
<use href="#g" fill="none" stroke="#231815" stroke-width="1" shape-rendering="crispEdges"/>
<g fill="none" stroke-linecap="round" stroke-linejoin="round">
<path d="M307.5 289.9 L388 212.8 Q407.3 194.3 426 194.3 L469.71 194.3" stroke="#0071bc" stroke-width="2.8"/>
<path d="M307.5 289.9 L397.2 324.77" stroke="#0071bc" stroke-width="2.2"/>
</g>
<use href="#g" fill="none" stroke="#231815" stroke-width="0.4"/>
<path d="M71.2 420.1 L430.5 420.1 L312.5 377" stroke="#ff78ae" stroke-width="2.7" fill="none" stroke-linecap="round" stroke-linejoin="round"/>
<rect x="10.5" y="37.5" width="604" height="405" fill="none" stroke="#0097a7" stroke-width="1" shape-rendering="crispEdges"/>
<path d="M615 442.5h4 M615 431.24h4 M615 419.97h4 M615 408.71h4 M615 397.44h4 M615 386.18h4 M615 374.92h4 M615 363.65h4 M615 352.39h4 M615 341.12h4 M615 329.86h4 M615 318.6h4 M615 307.33h4 M615 296.07h4 M615 284.8h4 M615 273.54h4 M615 262.28h4 M615 251.01h4 M615 239.75h4 M615 228.48h4 M615 217.22h4 M615 205.96h4 M615 194.69h4 M615 183.43h4 M615 172.16h4 M615 160.9h4 M615 149.64h4 M615 138.37h4 M615 127.11h4 M615 115.84h4 M615 104.58h4 M615 93.32h4 M615 82.05h4 M615 70.79h4 M615 59.52h4 M615 48.26h4 M615 37h4" stroke="#231815" stroke-width="1" fill="none" shape-rendering="crispEdges"/>
<g stroke="#231815" stroke-width="0.5">
<g fill="#231815" font-size="9" text-anchor="middle">
<text x="9.58" y="455.6">-5</text><text x="21.66" y="455.6">-4</text><text x="33.75" y="455.6">-3</text><text x="45.83" y="455.6">-2</text><text x="57.92" y="455.6">-1</text><text x="70.9" y="455.6">0</text><text x="82.99" y="455.6">1</text><text x="95.07" y="455.6">2</text><text x="107.16" y="455.6">3</text><text x="119.24" y="455.6">4</text><text x="131.33" y="455.6">5</text><text x="143.41" y="455.6">6</text><text x="155.5" y="455.6">7</text><text x="167.58" y="455.6">8</text><text x="179.67" y="455.6">9</text><text x="191.75" y="455.6">10</text><text x="203.84" y="455.6">11</text><text x="215.92" y="455.6">12</text><text x="228.01" y="455.6">13</text><text x="240.09" y="455.6">14</text><text x="252.18" y="455.6">15</text><text x="264.26" y="455.6">16</text><text x="276.35" y="455.6">17</text><text x="288.43" y="455.6">18</text><text x="300.51" y="455.6">19</text><text x="312.6" y="455.6">20</text><text x="324.69" y="455.6">21</text><text x="336.77" y="455.6">22</text><text x="348.86" y="455.6">23</text><text x="360.94" y="455.6">24</text><text x="373.02" y="455.6">25</text><text x="385.11" y="455.6">26</text><text x="397.2" y="455.6">27</text><text x="409.28" y="455.6">28</text><text x="421.37" y="455.6">29</text><text x="433.45" y="455.6">30</text><text x="445.54" y="455.6">31</text><text x="457.62" y="455.6">32</text><text x="469.71" y="455.6">33</text><text x="481.79" y="455.6">34</text><text x="493.88" y="455.6">35</text><text x="505.96" y="455.6">36</text><text x="518.05" y="455.6">37</text><text x="530.13" y="455.6">38</text><text x="542.22" y="455.6">39</text><text x="554.3" y="455.6">40</text><text x="566.38" y="455.6">41</text><text x="578.47" y="455.6">42</text><text x="590.56" y="455.6">43</text><text x="602.64" y="455.6">44</text><text x="614.73" y="455.6">45</text>
</g>
<g fill="#231815" font-size="9">
<text x="620" y="445.7">0.000</text><text x="620" y="434.44">0.001</text><text x="620" y="423.17">0.002</text><text x="620" y="411.91">0.003</text><text x="620" y="400.64">0.004</text><text x="620" y="389.38">0.005</text><text x="620" y="378.12">0.006</text><text x="620" y="366.85">0.007</text><text x="620" y="355.59">0.008</text><text x="620" y="344.32">0.009</text><text x="620" y="333.06">0.010</text><text x="620" y="321.8">0.011</text><text x="620" y="310.53">0.012</text><text x="620" y="299.27">0.013</text><text x="620" y="288">0.014</text><text x="620" y="276.74">0.015</text><text x="620" y="265.48">0.016</text><text x="620" y="254.21">0.017</text><text x="620" y="242.95">0.018</text><text x="620" y="231.68">0.019</text><text x="620" y="220.42">0.020</text><text x="620" y="209.16">0.021</text><text x="620" y="197.89">0.022</text><text x="620" y="186.63">0.023</text><text x="620" y="175.36">0.024</text><text x="620" y="164.1">0.025</text><text x="620" y="152.84">0.026</text><text x="620" y="141.57">0.027</text><text x="620" y="130.31">0.028</text><text x="620" y="119.04">0.029</text><text x="620" y="107.78">0.030</text><text x="620" y="96.52">0.031</text><text x="620" y="85.25">0.032</text><text x="620" y="73.99">0.033</text><text x="620" y="62.72">0.034</text><text x="620" y="51.46">0.035</text><text x="620" y="40.2">0.036</text>
</g>
<g fill="#231815" font-size="8.8" text-anchor="middle">
<text x="514.7" y="32.8">90%</text><text x="542.2" y="32.8">80%</text><text x="572" y="32.8">70%</text>
</g>
<g fill="#231815" font-size="8.8" text-anchor="end">
<text x="19.81" y="396.44">5</text><text x="33.92" y="383.58">10</text><text x="51.03" y="367.92">15</text><text x="68.14" y="352.26">20</text><text x="85.25" y="336.6">25</text><text x="102.36" y="320.94">30</text><text x="119.47" y="305.28">35</text><text x="136.58" y="289.62">40</text><text x="153.69" y="273.96">45</text><text x="170.8" y="258.3">50</text><text x="187.91" y="242.64">55</text><text x="205.02" y="226.98">60</text><text x="222.13" y="211.32">65</text><text x="239.24" y="195.66">70</text><text x="256.35" y="180">75</text><text x="273.46" y="164.34">80</text><text x="290.57" y="148.68">85</text><text x="307.68" y="133.02">90</text><text x="324.79" y="117.36">95</text><text x="341.9" y="101.7">100</text><text x="356.51" y="86.44">105</text><text x="375.22" y="72.08">110</text><text x="391.83" y="57.12">115</text><text x="407.54" y="47.16">120</text>
</g>
<g fill="#231815" font-size="9.4" text-anchor="middle">
<text x="21.06" y="411.42">-4</text><text x="33.15" y="408.73">-3</text><text x="45.23" y="405.82">-2</text><text x="57.32" y="402.68">-1</text><text x="69.4" y="399.48">0</text><text x="81.21" y="396.27">1</text><text x="93.01" y="392.84">2</text><text x="104.81" y="389.19">3</text><text x="116.62" y="385.3">4</text><text x="128.43" y="381.15">5</text><text x="140.23" y="376.73">6</text><text x="152.03" y="372.03">7</text><text x="163.84" y="367.02">8</text><text x="175.65" y="361.7">9</text><text x="187.45" y="356.05">10</text><text x="199.25" y="350.04">11</text><text x="211.06" y="342.26">12</text><text x="222.87" y="335.48">13</text><text x="234.67" y="328.29">14</text><text x="246.48" y="320.66">15</text><text x="258.28" y="312.56">16</text><text x="270.09" y="303.99">17</text><text x="281.89" y="294.89">18</text><text x="293.69" y="286.66">19</text><text x="305.5" y="276.46">20</text><text x="317.31" y="265.66">21</text><text x="329.11" y="254.22">22</text><text x="340.92" y="242.13">23</text><text x="352.72" y="229.33">24</text><text x="364.52" y="215.79">25</text><text x="376.33" y="201.47">26</text><text x="388.14" y="186.33">27</text><text x="399.94" y="170.34">28</text><text x="411.75" y="153.43">29</text><text x="423.55" y="135.56">30</text><text x="435.36" y="116.69">31</text><text x="447.16" y="96.75">32</text><text x="458.97" y="75.7">33</text><text x="470.77" y="53.46">34</text>
</g>
</g>
<text x="13.2" y="23.4" font-size="18.6" font-weight="bold" fill="#231815" stroke="#231815" stroke-width="0.5">外気処理機</text>
<rect x="28.95" y="50.95" width="69.2" height="22.05" fill="#fff" stroke="#0071bc" stroke-width="1.5"/>
<text x="36.8" y="67.7" font-size="14.2" fill="#0071bc">夏期条件</text>
<g fill="#231815" stroke="#231815" stroke-width="0.4" font-size="12">
<text x="27" y="91.53">外気</text>
<text x="55.5" y="91.53" text-anchor="middle">:</text>
<text x="58.8" y="91.53">33.0°CDB</text>
<text x="121.2" y="91.53">28.0°CWB</text>
<text x="27" y="106.64">還気</text>
<text x="55.5" y="106.64" text-anchor="middle">:</text>
<text x="58.8" y="106.64">27.0°CDB</text>
<text x="121.2" y="106.64">19.0°CWB</text>
</g>
<rect x="28.95" y="119.35" width="69.2" height="22" fill="#fff" stroke="#ff78ae" stroke-width="1.5"/>
<text x="36.8" y="136.2" font-size="14.2" fill="#ff78ae">冬期条件</text>
<g fill="#231815" stroke="#231815" stroke-width="0.4" font-size="12">
<text x="27" y="158.94">外気</text>
<text x="55.5" y="158.94" text-anchor="middle">:</text>
<text x="64.2" y="158.94" font-size="12.5">0.0°CDB</text>
<text x="125.7" y="158.94">2.9°CWB</text>
<text x="27" y="176.34">還気</text>
<text x="55.5" y="176.34" text-anchor="middle">:</text>
<text x="59.1" y="176.34">20.0°CDB</text>
<text x="121.2" y="176.34" font-size="12.5">40%RH</text>
</g>
<path d="M117.8 150.4 L119.8 151.6 L120.5 153.4 L120.4 156.2 L119.4 158 L117.6 159.6 L115.9 158 L114.9 156 L114.9 153.2 L115.9 151.4 Z" fill="none" stroke="#fff" stroke-width="1.5" stroke-linejoin="miter"/>
<path d="M114 154.5h10" stroke="#231815" stroke-width="1" fill="none" shape-rendering="crispEdges"/>
<rect x="473.5" y="170.9" width="54.75" height="16.8" fill="#fff" stroke="#0071bc" stroke-width="1"/>
<text x="478.9" y="183.2" font-size="11.1" fill="#0071bc">夏期外気</text>
<rect x="237.6" y="283.4" width="55.1" height="17.9" fill="#fff" stroke="#0071bc" stroke-width="1"/>
<text x="242.5" y="296.2" font-size="11.2" fill="#0071bc">夏期給気</text>
<rect x="409.6" y="321.2" width="83.8" height="16.7" fill="#fff" stroke="#0071bc" stroke-width="1"/>
<text x="415.4" y="332.8" font-size="11" fill="#0071bc" textLength="76.7">夏期還気(室内)</text>
<rect x="263.6" y="352.7" width="112.8" height="16.6" fill="#fff" stroke="#ff78ae" stroke-width="1"/>
<text x="269.5" y="364.3" font-size="10.7" fill="#ff78ae" textLength="103.5">冬期還気(室内)・給気</text>
<rect x="12.2" y="423.8" width="55" height="16.8" fill="#fff" stroke="#ff78ae" stroke-width="1"/>
<text x="18.4" y="436.9" font-size="10.9" fill="#ff78ae">冬期外気</text>
<text x="264.9" y="473.9" font-size="14" font-weight="bold" fill="#231815" stroke="#231815" stroke-width="0.3">乾球温度</text>
<text x="331" y="473.46" font-size="15.5" fill="#231815" stroke="#231815" stroke-width="0.4" textLength="41" lengthAdjust="spacingAndGlyphs">[°CDB]</text>
<g transform="translate(656 293.8) rotate(-90)" fill="#231815" stroke="#231815">
<text x="0" y="6.3" font-size="14" font-weight="bold" stroke-width="0.3">絶対湿度</text>
<text x="61.8" y="4.39" font-size="15.5" stroke-width="0.4" textLength="84" lengthAdjust="spacingAndGlyphs">[kg/kg(DA)]</text>
</g>
<text x="546.9" y="473.14" font-size="9" fill="#231815" textLength="99" lengthAdjust="spacingAndGlyphs">(全圧力 P=101.325kPa)</text>
<g transform="translate(156.5 245) rotate(-43.5)" fill="#231815">
<text x="0" y="3.8" font-size="9" stroke="#231815" stroke-width="0.4" textLength="53.3" lengthAdjust="spacingAndGlyphs">比エンタルピ</text>
<text x="56.5" y="2.43" font-size="8.7" font-weight="bold" textLength="56">[kJ/kg (DA)]</text>
</g>
<g transform="translate(295.4 262.9) rotate(-42.7)" fill="#231815" stroke="#fff" stroke-width="2.1" stroke-linejoin="round" paint-order="stroke">
<text x="0.8" y="3.3" font-size="8.7" font-weight="bold">湿球温度</text>
<text x="41.5" y="2.78" font-size="9" font-weight="bold" textLength="27.7" lengthAdjust="spacingAndGlyphs">[°CWB]</text>
</g>
<g transform="translate(540.4 403.1) rotate(-15.5)" fill="#231815" stroke="#fff" stroke-width="2.1" stroke-linejoin="round" paint-order="stroke">
<text x="0.8" y="3.2" font-size="9.1" font-weight="bold">相対湿度</text>
<text x="41.5" y="2.65" font-size="8.7" font-weight="bold" textLength="26.7" lengthAdjust="spacingAndGlyphs">[%RH]</text>
</g>
<g fill="#231815" stroke="#fff" stroke-width="2" stroke-linejoin="round" paint-order="stroke" font-size="10.4">
<text x="573.9" y="65.1" textLength="16.2" lengthAdjust="spacingAndGlyphs">60%</text>
<text x="580.6" y="118.5" textLength="16.2" lengthAdjust="spacingAndGlyphs">50%</text>
<text x="584.2" y="179.2" textLength="16.2" lengthAdjust="spacingAndGlyphs">40%</text>
<text x="583.9" y="248" textLength="16.2" lengthAdjust="spacingAndGlyphs">30%</text>
<text x="583.7" y="314.7" textLength="16.2" lengthAdjust="spacingAndGlyphs">20%</text>
<text x="584.3" y="377.9" textLength="16.2" lengthAdjust="spacingAndGlyphs">10%</text>
</g>
<circle cx="307.5" cy="289.9" r="5.5" fill="#00a0e9"/>
<path d="M307.86 289.55 L311.53 286.01" stroke="#0071bc" stroke-width="2.8" stroke-opacity="0.55" fill="none"/>
<path d="M307.97 290.08 L312.72 291.93" stroke="#0071bc" stroke-width="2.2" stroke-opacity="0.55" fill="none"/>
<circle cx="469.2" cy="194.4" r="5.5" fill="#0071bc"/>
<circle cx="397.2" cy="324.77" r="5.5" fill="#0071bc"/>
<circle cx="71.2" cy="420" r="5.5" fill="#ff78ae"/>
<circle cx="430.5" cy="420" r="5.5" fill="#ff78ae"/>
<circle cx="312.5" cy="377" r="5.5" fill="#ff78ae"/>
</svg>
</body></html>
